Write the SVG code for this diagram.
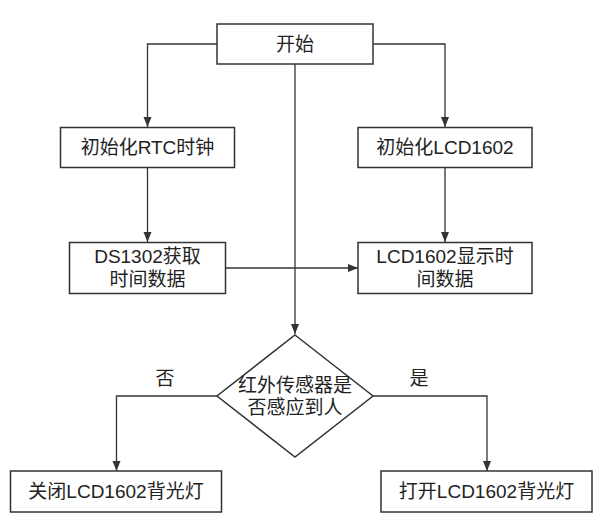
<svg xmlns="http://www.w3.org/2000/svg" width="603" height="521" viewBox="0 0 603 521">
<defs>
<style>
.box{fill:#ffffff;stroke:#333333;stroke-width:1.5}
.ln{fill:none;stroke:#333333;stroke-width:1.3}
.t{font-family:"Liberation Sans","Noto Sans CJK SC",sans-serif;font-size:19px;fill:#222222;text-anchor:middle;dominant-baseline:central}
</style>
<marker id="ah" viewBox="0 0 10 10" refX="10" refY="5" markerWidth="10" markerHeight="10" markerUnits="userSpaceOnUse" orient="auto">
<path d="M0,1 L10,5 L0,9 Z" fill="#333333"/>
</marker>
</defs>
<rect width="603" height="521" fill="#ffffff"/>
<g id="connectors">
<path class="ln" d="M217,44 H147.5 V127" marker-end="url(#ah)"/>
<path class="ln" d="M373,44 H445 V127" marker-end="url(#ah)"/>
<path class="ln" d="M295,64 V334" marker-end="url(#ah)"/>
<path class="ln" d="M147.5,168 V242" marker-end="url(#ah)"/>
<path class="ln" d="M445,168 V242" marker-end="url(#ah)"/>
<path class="ln" d="M226,268 H358" marker-end="url(#ah)"/>
<path class="ln" d="M217,396 H116.5 V471" marker-end="url(#ah)"/>
<path class="ln" d="M373,396 H487 V471" marker-end="url(#ah)"/>
</g>
<g id="start">
<rect class="box" x="217" y="24" width="156" height="40"/>
<text class="t" x="295" y="44">开始</text>
</g>
<g id="init-rtc">
<rect class="box" x="60.5" y="127.5" width="174" height="40"/>
<text class="t" x="147.5" y="147.5">初始化RTC时钟</text>
</g>
<g id="init-lcd">
<rect class="box" x="358" y="127.5" width="174" height="40"/>
<text class="t" x="445" y="147.5">初始化LCD1602</text>
</g>
<g id="get-time">
<rect class="box" x="69.5" y="242.5" width="156" height="51"/>
<text class="t" x="147.5" y="256.5">DS1302获取</text>
<text class="t" x="147.5" y="279.5">时间数据</text>
</g>
<g id="show-time">
<rect class="box" x="358" y="242.5" width="174" height="51"/>
<text class="t" x="445" y="256.5">LCD1602显示时</text>
<text class="t" x="445" y="279.5">间数据</text>
</g>
<g id="decision">
<path class="box" d="M295,335 L373,396 L295,457 L217,396 Z"/>
<text class="t" x="295" y="385">红外传感器是</text>
<text class="t" x="295" y="407.5">否感应到人</text>
</g>
<g id="label-no">
<text class="t" x="165" y="378">否</text>
</g>
<g id="label-yes">
<text class="t" x="419" y="378">是</text>
</g>
<g id="lcd-off">
<rect class="box" x="10.5" y="471" width="211" height="41"/>
<text class="t" x="116" y="491.5">关闭LCD1602背光灯</text>
</g>
<g id="lcd-on">
<rect class="box" x="381" y="471" width="211" height="41"/>
<text class="t" x="486.5" y="491.5">打开LCD1602背光灯</text>
</g>
</svg>
